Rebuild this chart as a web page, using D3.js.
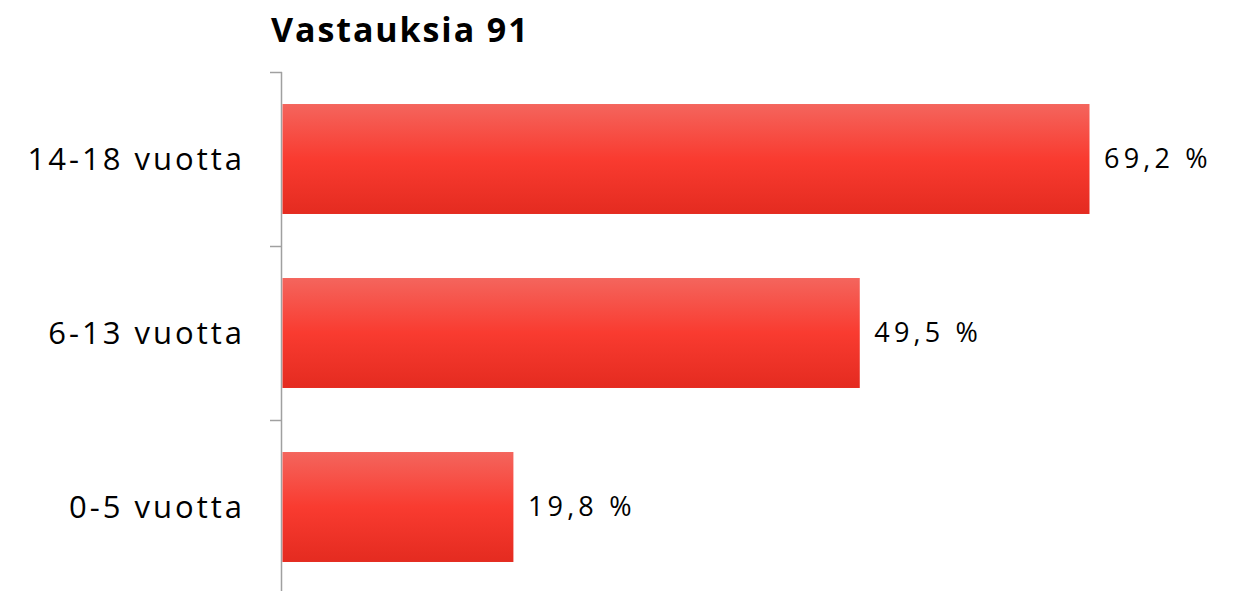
<!DOCTYPE html>
<html><head><meta charset="utf-8">
<script src="https://cdn.jsdelivr.net/npm/d3@7"></script>
<style>body{margin:0;background:#fff}svg{display:block}</style>
</head><body>
<script>
const categories = ["14-18 vuotta", "6-13 vuotta", "0-5 vuotta"];
const values = [69.2, 49.5, 19.8];
const valueLabels = ["69,2 %", "49,5 %", "19,8 %"];
const title = "Vastauksia 91";

const W = 1237, H = 591;
const svg = d3.select("body").append("svg").attr("width", W).attr("height", H);

const defs = svg.append("defs");
const g = defs.append("linearGradient").attr("id", "barGrad").attr("x1", 0).attr("y1", 0).attr("x2", 0).attr("y2", 1);
g.append("stop").attr("offset", "0%").attr("stop-color", "#f4655d");
g.append("stop").attr("offset", "50%").attr("stop-color", "#f93b30");
g.append("stop").attr("offset", "100%").attr("stop-color", "#e42b20");

const x0 = 282;
const x = d3.scaleLinear().domain([0, 80]).range([x0, x0 + 807 / 69.2 * 80]);
const y = d3.scaleBand().domain(categories).range([72, 594]).paddingInner(0.368).paddingOuter(0.184);
const yTicks = d3.scaleBand().domain(categories).range([72, 594]);

const font = "'Open Sans', 'DejaVu Sans', sans-serif";

svg.append("text").attr("x", 271).attr("y", 42).text(title)
  .attr("font-family", font).attr("font-weight", "bold").attr("font-size", 34)
  .attr("letter-spacing", 1.9).attr("fill", "#000");

// axis line and ticks
const axisG = svg.append("g");
axisG.append("line").attr("x1", 281.5).attr("x2", 281.5).attr("y1", 72).attr("y2", 594)
  .attr("stroke", "#a0a0a0").attr("stroke-width", 1.5);
const tickYs = categories.map(c => yTicks(c));
axisG.selectAll("line.tick").data(tickYs).enter().append("line").attr("class", "tick")
  .attr("x1", 270).attr("x2", 282).attr("y1", d => d + 0.5).attr("y2", d => d + 0.5)
  .attr("stroke", "#a0a0a0").attr("stroke-width", 1.5);

// bars
svg.selectAll("rect.bar").data(values).enter().append("rect").attr("class", "bar")
  .attr("x", x(0) + 0.5).attr("y", (d, i) => y(categories[i]))
  .attr("width", d => x(d) - x(0)).attr("height", y.bandwidth())
  .attr("fill", "url(#barGrad)");

// category labels
svg.selectAll("text.cat").data(categories).enter().append("text").attr("class", "cat")
  .attr("x", 245).attr("y", c => y(c) + y.bandwidth() / 2).attr("dy", "0.35em")
  .attr("text-anchor", "end").attr("font-family", font).attr("font-size", 31)
  .attr("letter-spacing", 3).attr("fill", "#000").text(c => c);

// value labels
svg.selectAll("text.val").data(values).enter().append("text").attr("class", "val")
  .attr("x", d => x(d) + 15).attr("y", (d, i) => y(categories[i]) + y.bandwidth() / 2).attr("dy", "0.35em")
  .attr("font-family", font).attr("font-size", 27).attr("letter-spacing", 4.2).attr("fill", "#000")
  .text((d, i) => valueLabels[i]);
</script>
</body></html>
